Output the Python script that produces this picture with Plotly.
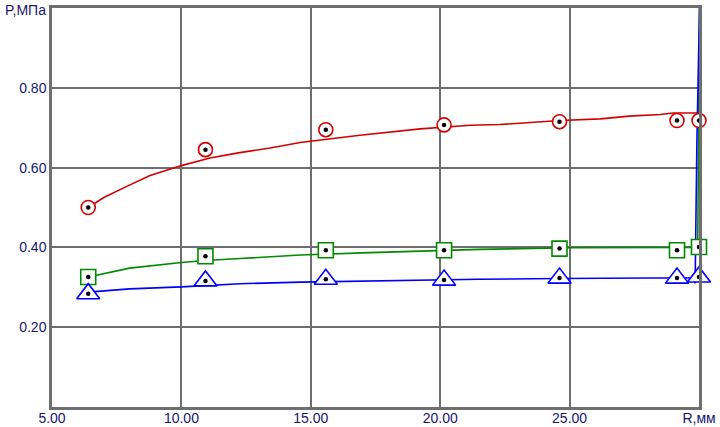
import plotly.graph_objects as go

# measured points (marker centres)
r_pts = [6.40, 10.93, 15.58, 20.15, 24.61, 29.15, 30.0]
p_red = [0.500, 0.645, 0.695, 0.707, 0.715, 0.718, 0.718]
p_green = [0.326, 0.378, 0.393, 0.393, 0.397, 0.393, 0.401]
p_blue = [0.284, 0.316, 0.320, 0.318, 0.323, 0.323, 0.326]

# fitted curves
r_red_line = [6.40, 7.0, 7.89, 8.79, 10.0, 11.1, 12.2, 13.43, 14.59, 16.9, 19.23, 21.16, 22.3, 24.64, 26.2, 27.3, 28.5, 29.0, 30.0]
p_red_line = [0.500, 0.525, 0.553, 0.580, 0.605, 0.624, 0.637, 0.649, 0.663, 0.681, 0.697, 0.706, 0.708, 0.718, 0.722, 0.729, 0.733, 0.737, 0.737]

r_green_line = [6.40, 8.0, 10.0, 10.93, 12.27, 14.6, 17.3, 19.6, 21.5, 25.0, 28.0, 29.95, 30.02, 30.1]
p_green_line = [0.326, 0.348, 0.362, 0.367, 0.372, 0.381, 0.387, 0.391, 0.395, 0.399, 0.399, 0.400, 1.0, 1.1]

r_blue_line = [6.40, 8.0, 10.0, 10.93, 12.27, 14.6, 19.4, 21.5, 24.6, 28.5, 29.82, 29.85, 29.92, 30.02, 30.1]
p_blue_line = [0.288, 0.296, 0.301, 0.305, 0.309, 0.313, 0.319, 0.320, 0.322, 0.324, 0.324, 0.310, 0.670, 1.0, 1.1]

x_ticks = [5, 10, 15, 20, 25, 30]
x_labels = ['5.00', '10.00', '15.00', '20.00', '25.00', 'R,мм']
y_ticks = [0.2, 0.4, 0.6, 0.8]
y_labels = ['0.20', '0.40', '0.60', '0.80']

RED = '#d40000'
GREEN = '#008a00'
BLUE = '#0000ff'
TXT = '#16166e'
GRID = '#6e6e6e'

fig = go.Figure()

# lines
fig.add_trace(go.Scatter(x=r_red_line, y=p_red_line, mode='lines', line=dict(color=RED, width=1.6)))
fig.add_trace(go.Scatter(x=r_green_line, y=p_green_line, mode='lines', line=dict(color=GREEN, width=1.6)))
fig.add_trace(go.Scatter(x=r_blue_line, y=p_blue_line, mode='lines', line=dict(color=BLUE, width=1.6)))

# markers (white filled, open look)
fig.add_trace(go.Scatter(x=r_pts, y=p_red, mode='markers', cliponaxis=False,
                         marker=dict(symbol='circle', size=14, color='white', line=dict(color=RED, width=1.6))))
fig.add_trace(go.Scatter(x=r_pts, y=p_green, mode='markers', cliponaxis=False,
                         marker=dict(symbol='square', size=15, color='white', line=dict(color=GREEN, width=1.6))))
fig.add_trace(go.Scatter(x=r_pts, y=p_blue, mode='markers', cliponaxis=False,
                         marker=dict(symbol='triangle-up', size=20, color='white', line=dict(color=BLUE, width=1.6))))

# black centre dots
for ys in (p_red, p_green, p_blue):
    fig.add_trace(go.Scatter(x=r_pts, y=ys, mode='markers', cliponaxis=False,
                             marker=dict(symbol='circle', size=4.5, color='black')))

fig.update_layout(
    template='none',
    width=720, height=427,
    margin=dict(l=52, r=21, t=8, b=20, autoexpand=False),
    plot_bgcolor='white', paper_bgcolor='white',
    showlegend=False,
    font=dict(family='Liberation Sans, Arial, sans-serif', size=14, color=TXT),
)
fig.update_xaxes(range=[5, 30], tickvals=x_ticks, ticktext=x_labels, automargin=False,
                 showgrid=True, gridcolor=GRID, gridwidth=1.5,
                 showline=True, mirror=True, linecolor=GRID, linewidth=2.5,
                 zeroline=False, ticks='', ticklabelstandoff=-4, tickfont=dict(size=14, color=TXT))
fig.update_yaxes(range=[0, 1], tickvals=y_ticks, ticktext=y_labels, automargin=False,
                 showgrid=True, gridcolor=GRID, gridwidth=1.5,
                 showline=True, mirror=True, linecolor=GRID, linewidth=2.5,
                 zeroline=False, ticks='', tickfont=dict(size=14, color=TXT))

fig.add_annotation(xref='paper', yref='paper', x=0, y=1, xanchor='right', yanchor='middle',
                   xshift=-4, yshift=-2, text='P,МПа', showarrow=False,
                   font=dict(size=14, color=TXT))

# page body has a default 8px margin; drop it so the figure sits at 0,0
fig.write_html("out.html", config={'displayModeBar': False},
               post_script="document.body.style.margin='0';")
